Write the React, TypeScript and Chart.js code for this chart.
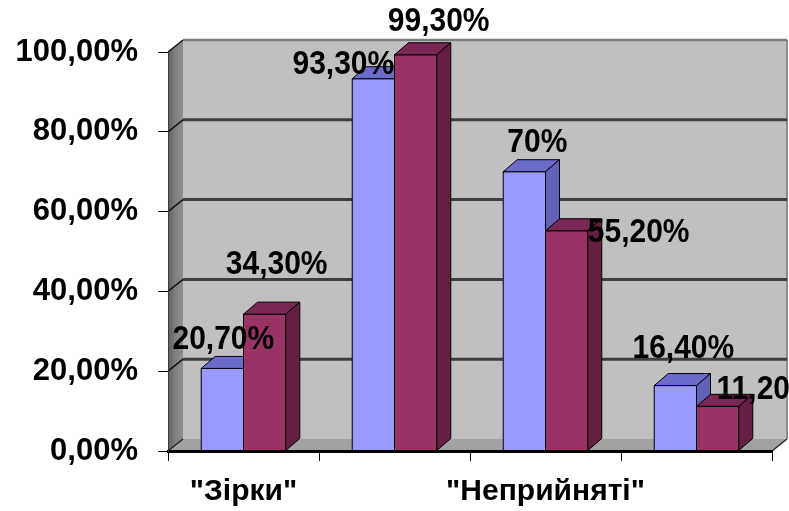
import { useEffect, useRef } from 'react';
import { Chart, registerables } from 'chart.js';

Chart.register(...registerables);

// Categories (only the 1st and 3rd carry a caption on the axis)
const categories = ['"Зірки"', '', '"Неприйняті"', ''];
// Two compared groups, percent
const seriesBlue = [20.7, 93.3, 70, 16.4];
const seriesMaroon = [34.3, 99.3, 55.2, 11.2];
const yTickValues = [0, 20, 40, 60, 80, 100];

const FONT = "'Liberation Sans', Arial, Helvetica, sans-serif";

// Depth of the pseudo-3D box and of the columns
const WALL_DX = 15;
const WALL_DY = -12;
const BAR_DX = 14;
const BAR_DY = -12;

const faceColors = [
  { front: '#9999ff', top: '#6b6bcc', side: '#6262b8' },
  { front: '#993366', top: '#7a2755', side: '#651f44' },
];

// Label nudges relative to the top-centre of each column's front face
const labelNudge = [
  [[1, -28], [-30, -14], [13, -29], [8, -36]],
  [[12, -49], [23, -33], [72, 2], [49, -16]],
];

const fmtTick = (v: number) => v.toFixed(2).replace('.', ',') + '%';
const fmtLabel = (v: number) =>
  Number.isInteger(v) ? `${v}%` : v.toFixed(2).replace('.', ',') + '%';

function poly(ctx: CanvasRenderingContext2D, pts: number[][], fill: any, stroke?: string, lw = 1) {
  ctx.beginPath();
  ctx.moveTo(pts[0][0], pts[0][1]);
  for (let i = 1; i < pts.length; i++) ctx.lineTo(pts[i][0], pts[i][1]);
  ctx.closePath();
  if (fill) {
    ctx.fillStyle = fill;
    ctx.fill();
  }
  if (stroke) {
    ctx.strokeStyle = stroke;
    ctx.lineWidth = lw;
    ctx.stroke();
  }
}

function seg(ctx: CanvasRenderingContext2D, x1: number, y1: number, x2: number, y2: number, color: string, lw: number) {
  ctx.beginPath();
  ctx.moveTo(x1, y1);
  ctx.lineTo(x2, y2);
  ctx.strokeStyle = color;
  ctx.lineWidth = lw;
  ctx.stroke();
}

const box3d = {
  id: 'box3d',
  beforeDraw(chart: any) {
    const { ctx, chartArea: a, scales } = chart;
    const ys = scales.y;
    ctx.save();
    // back wall
    ctx.fillStyle = '#c0c0c0';
    ctx.fillRect(a.left + WALL_DX, a.top + WALL_DY, a.right - a.left, a.bottom - a.top);
    // left wall
    const grad = ctx.createLinearGradient(a.left, 0, a.left + WALL_DX, 0);
    grad.addColorStop(0, '#5e5e5e');
    grad.addColorStop(0.5, '#808080');
    grad.addColorStop(1, '#8e8e8e');
    poly(ctx, [
      [a.left, a.top],
      [a.left + WALL_DX, a.top + WALL_DY],
      [a.left + WALL_DX, a.bottom + WALL_DY],
      [a.left, a.bottom],
    ], grad);
    // floor
    poly(ctx, [
      [a.left, a.bottom],
      [a.right, a.bottom],
      [a.right + WALL_DX, a.bottom + WALL_DY],
      [a.left + WALL_DX, a.bottom + WALL_DY],
    ], '#a2a2a2');
    // right edge of the back wall
    seg(ctx, a.right + WALL_DX, a.top + WALL_DY, a.right + WALL_DX, a.bottom + WALL_DY, '#8c8c8c', 2);
    // gridlines on the walls
    for (const t of yTickValues) {
      const py = ys.getPixelForValue(t);
      if (t === 0) {
        seg(ctx, a.left, py, a.left + WALL_DX, py + WALL_DY, '#222', 1.5);
        seg(ctx, a.right, py, a.right + WALL_DX, py + WALL_DY, '#222', 1.5);
        continue;
      }
      seg(ctx, a.left, py, a.left + WALL_DX, py + WALL_DY, '#111', 1.5);
      seg(ctx, a.left + WALL_DX, py + WALL_DY, a.right + WALL_DX, py + WALL_DY,
        t === 100 ? '#7c7c7c' : '#3e3e3e', t === 100 ? 2.5 : 3);
    }
    ctx.restore();
  },
  afterDatasetsDraw(chart: any) {
    const { ctx } = chart;
    ctx.save();
    ctx.lineJoin = 'miter';
    // columns, series by series so the second one sits in front of the first
    chart.data.datasets.forEach((_ds: any, di: number) => {
      const colors = faceColors[di];
      for (const el of chart.getDatasetMeta(di).data) {
        const { x, y, base, width } = el.getProps(['x', 'y', 'base', 'width'], true);
        const l = x - width / 2;
        const r = x + width / 2;
        poly(ctx, [[l, y], [r, y], [r, base], [l, base]], colors.front, '#000', 1);
        poly(ctx, [[l, y], [r, y], [r + BAR_DX, y + BAR_DY], [l + BAR_DX, y + BAR_DY]], colors.top, '#000', 1);
        poly(ctx, [[r, y], [r + BAR_DX, y + BAR_DY], [r + BAR_DX, base + BAR_DY], [r, base]], colors.side, '#000', 1);
      }
    });
    // value labels
    ctx.fillStyle = '#000';
    ctx.font = `bold 30px ${FONT}`;
    ctx.textAlign = 'center';
    ctx.textBaseline = 'middle';
    chart.data.datasets.forEach((ds: any, di: number) => {
      chart.getDatasetMeta(di).data.forEach((el: any, i: number) => {
        const { x, y } = el.getProps(['x', 'y'], true);
        const [nx, ny] = labelNudge[di][i];
        ctx.save();
        ctx.translate(x + nx, y + ny);
        ctx.scale(1, 1.08);
        ctx.fillText(fmtLabel(ds.data[i]), 0, 0);
        ctx.restore();
      });
    });
    ctx.restore();
  },
};

export default function App() {
  const ref = useRef<HTMLCanvasElement>(null);

  useEffect(() => {
    const chart = new Chart(ref.current!, {
      type: 'bar',
      data: {
        labels: categories,
        datasets: [
          { label: 'A', data: seriesBlue, backgroundColor: faceColors[0].front, borderWidth: 0 },
          { label: 'B', data: seriesMaroon, backgroundColor: faceColors[1].front, borderWidth: 0 },
        ],
      },
      options: {
        animation: false,
        responsive: false,
        devicePixelRatio: 1,
        layout: { padding: { top: 52, right: 17, left: 0, bottom: 0 } },
        datasets: { bar: { categoryPercentage: 0.56, barPercentage: 1 } },
        plugins: {
          legend: { display: false },
          tooltip: { enabled: false },
        },
        scales: {
          x: {
            afterFit: (s: any) => { s.height = 60; },
            grid: { drawOnChartArea: false, drawTicks: true, tickLength: 10, color: '#000', lineWidth: 1, offset: true },
            border: { display: true, color: '#000', width: 3 },
            ticks: {
              autoSkip: false,
              maxRotation: 0,
              padding: 13,
              color: '#000',
              font: { family: FONT, size: 30, weight: 'bold' },
            },
          },
          y: {
            min: 0,
            max: 100,
            afterFit: (s: any) => { s.width = 168; },
            afterBuildTicks: (s: any) => { s.ticks = yTickValues.map((v) => ({ value: v })); },
            grid: { drawOnChartArea: false, drawTicks: true, tickLength: 10, color: '#000', lineWidth: 1 },
            border: { display: true, color: '#3a3a3a', width: 1 },
            ticks: {
              padding: 20,
              color: '#000',
              font: { family: FONT, size: 31, weight: 'bold' },
              callback: (v: any) => fmtTick(Number(v)),
            },
          },
        },
      },
      plugins: [box3d],
    });
    return () => chart.destroy();
  }, []);

  return (
    <div style={{ position: 'absolute', left: 0, top: 0, width: 789, height: 511, background: '#fff' }}>
      <canvas ref={ref} width={789} height={511} style={{ display: 'block', width: 789, height: 511 }} />
    </div>
  );
}
